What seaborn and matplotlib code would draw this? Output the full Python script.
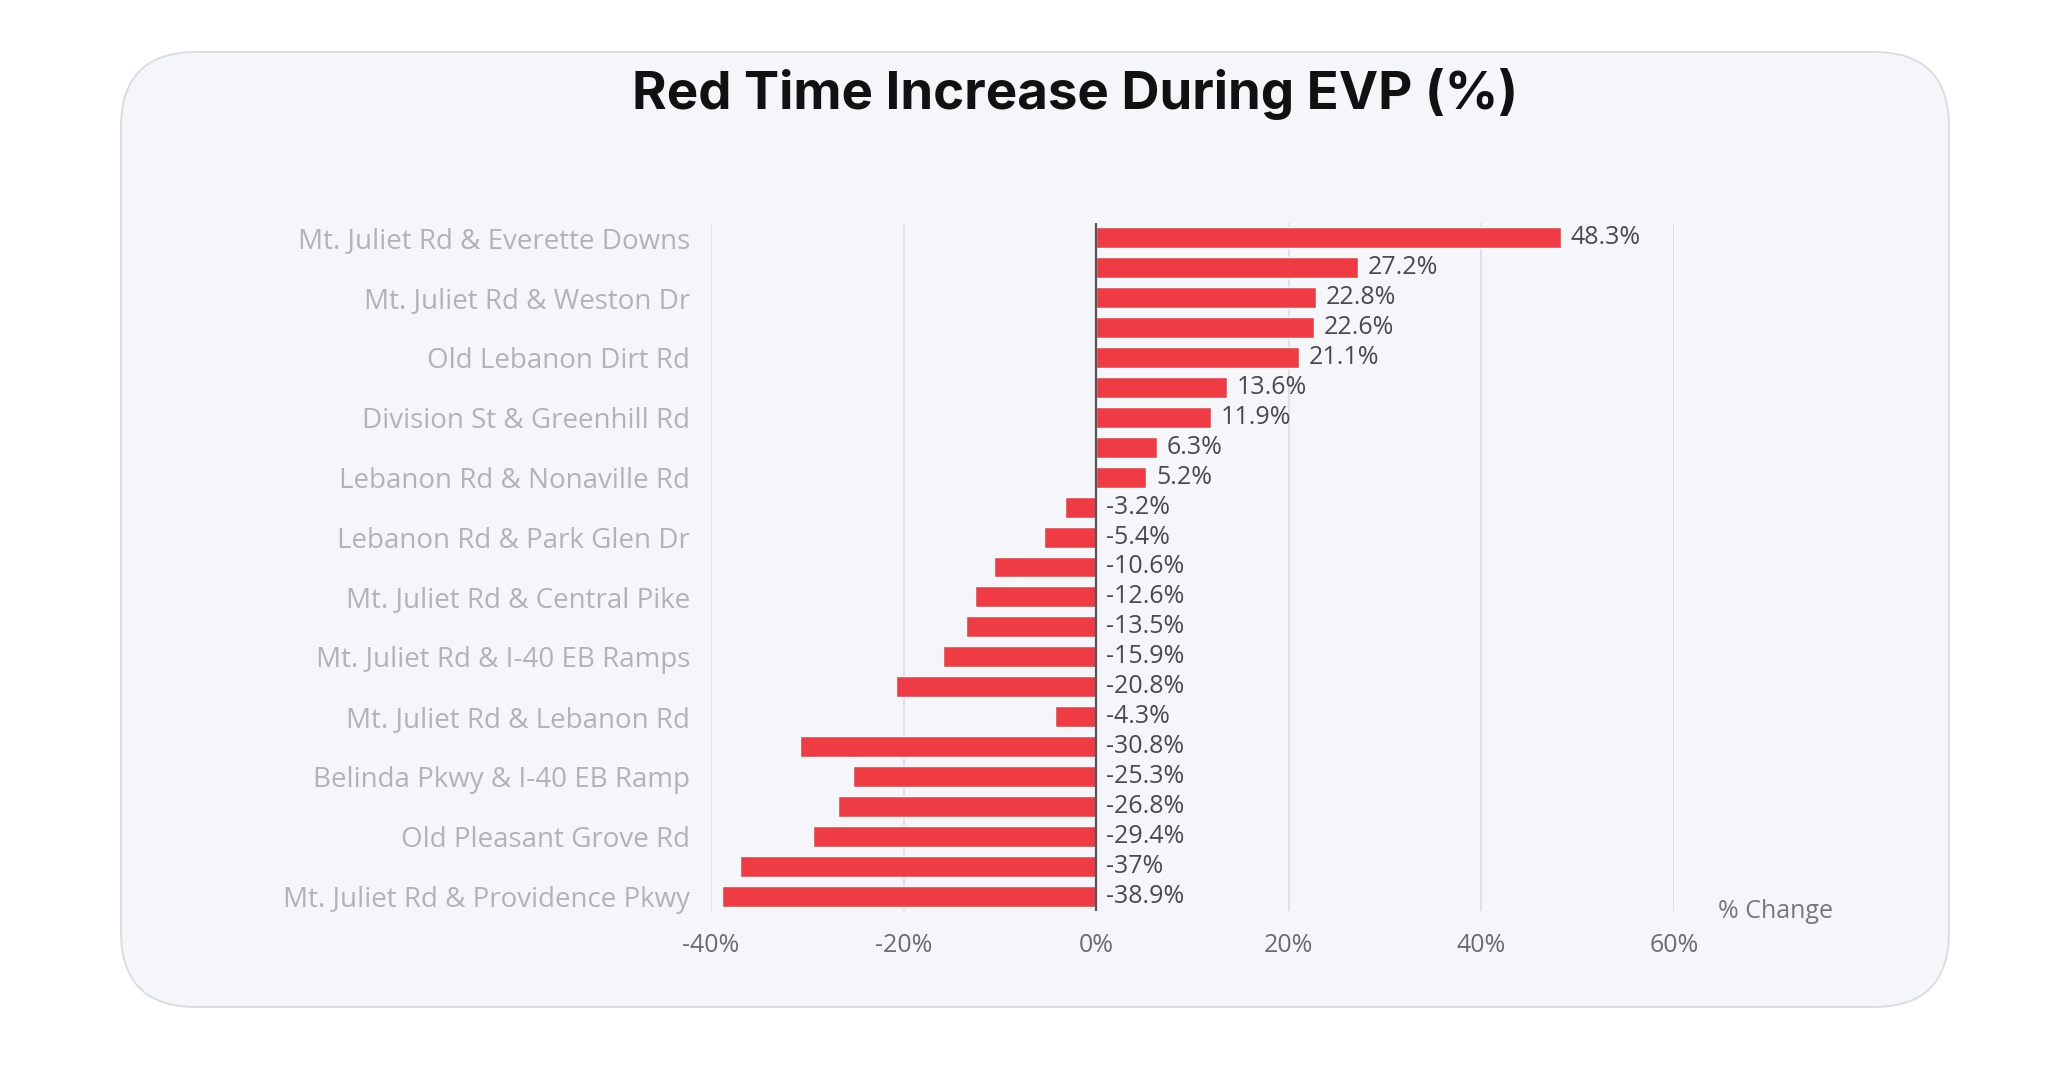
import matplotlib
matplotlib.use("Agg")
import matplotlib.pyplot as plt
import seaborn as sns
import pandas as pd
from matplotlib.patches import FancyBboxPatch

# Dados do grafico (ordem de cima para baixo)
# so um rotulo em cada dois aparece no eixo; os outros ficam sem nome visivel
locais = [
    "Mt. Juliet Rd & Everette Downs", "Local 2",
    "Mt. Juliet Rd & Weston Dr", "Local 4",
    "Old Lebanon Dirt Rd", "Local 6",
    "Division St & Greenhill Rd", "Local 8",
    "Lebanon Rd & Nonaville Rd", "Local 10",
    "Lebanon Rd & Park Glen Dr", "Local 12",
    "Mt. Juliet Rd & Central Pike", "Local 14",
    "Mt. Juliet Rd & I-40 EB Ramps", "Local 16",
    "Mt. Juliet Rd & Lebanon Rd", "Local 18",
    "Belinda Pkwy & I-40 EB Ramp", "Local 20",
    "Old Pleasant Grove Rd", "Local 22",
    "Mt. Juliet Rd & Providence Pkwy",
]
variacao = [48.3, 27.2, 22.8, 22.6, 21.1, 13.6, 11.9, 6.3, 5.2,
            -3.2, -5.4, -10.6, -12.6, -13.5, -15.9, -20.8, -4.3,
            -30.8, -25.3, -26.8, -29.4, -37, -38.9]
ticks_x = [-40, -20, 0, 20, 40, 60]

sns.set_theme(style="white")
plt.rcParams["font.family"] = ["Open Sans", "DejaVu Sans"]

fig = plt.figure(figsize=(20.55, 10.71), dpi=100)
fig.patch.set_facecolor("white")

# cartao arredondado de fundo (atras do eixo)
cartao = FancyBboxPatch((1.21, 0.64), 18.28, 9.55,
                        boxstyle="round,pad=0,rounding_size=0.75",
                        transform=fig.dpi_scale_trans,
                        facecolor="#f5f6fa", edgecolor="#dcdde2", linewidth=1.4,
                        zorder=-10)
fig.add_artist(cartao)

ax = fig.add_axes([0.346, 0.1494, 0.4685, 0.6424])
ax.set_zorder(1)
ax.patch.set_alpha(0)

df = pd.DataFrame({"local": locais, "variacao": variacao})
sns.barplot(data=df, y="local", x="variacao", color="#ee3b44", saturation=1,
            width=0.7, ax=ax)

ax.set_xlim(-40, 60)
ax.set_ylim(len(locais) - 0.5, -0.5)
ax.set_xticks(ticks_x)
ax.set_xticklabels([f"{t}%" for t in ticks_x], fontsize=18, color="#6b6b70")
ax.set_yticks(range(0, len(locais), 2))
ax.set_yticklabels(locais[::2], fontsize=20, color="#b2b3ba")
ax.tick_params(axis="both", length=0)
ax.tick_params(axis="x", pad=16)
ax.tick_params(axis="y", pad=15)
ax.set_xlabel("")
ax.set_ylabel("")
for s in ax.spines.values():
    s.set_visible(False)

ax.grid(axis="x", color="#dcdde3", linewidth=1.2)
ax.grid(axis="y", visible=False)
ax.set_axisbelow(True)
ax.axvline(0, color="#555559", linewidth=1.6, zorder=3)

# rotulos de valor
for i, v in enumerate(variacao):
    ax.annotate(f"{v:g}%", xy=(max(v, 0), i), xytext=(7, 0),
                textcoords="offset points", va="center", ha="left",
                fontsize=18, color="#4a4a4e")

fig.text(0.523, 0.912, "Red Time Increase During EVP (%)", ha="center",
         va="center", fontsize=38, fontweight="bold", color="#111111",
         family=["Inter", "DejaVu Sans"])
fig.text(0.864, 0.149, "% Change", ha="center", va="center", fontsize=18,
         color="#77777c")

fig.savefig("out.png", dpi=100)
